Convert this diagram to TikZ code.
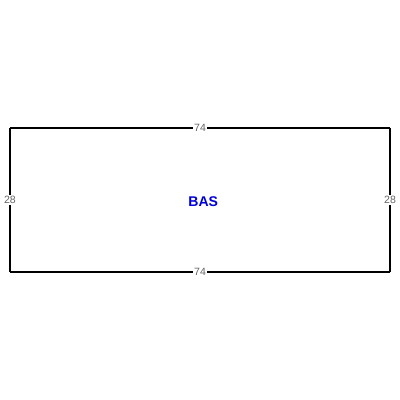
\documentclass[tikz,border=0pt]{standalone}
\usepackage{fontspec}
\setsansfont{Liberation Sans}
\usetikzlibrary{positioning}

\begin{document}
\begin{tikzpicture}[
	dimlabel/.style={fill=white,inner sep=0.8pt,text=black!60,font=\sffamily\fontsize{7.5}{8}\selectfont},
	roomname/.style={text=blue!85!black,font=\sffamily\bfseries\fontsize{10}{12}\selectfont}
	]
					\useasboundingbox (0,0) rectangle (10,10);

					\coordinate (tl) at (0.25,6.8);
					\coordinate (tr) at (9.75,6.8);
					\coordinate (br) at (9.75,3.2);
					\coordinate (bl) at (0.25,3.2);

					\draw[thick] (tl) -- (tr) node[dimlabel,midway] (top) {74};
					\draw[thick] (tr) -- (br) node[dimlabel,midway] (right) {28};
					\draw[thick] (br) -- (bl) node[dimlabel,midway] (bottom) {74};
					\draw[thick] (bl) -- (tl) node[dimlabel,midway] (left) {28};

					\node[roomname] (bas) at (5.08,4.95) {BAS};
				\end{tikzpicture}
\end{document}
